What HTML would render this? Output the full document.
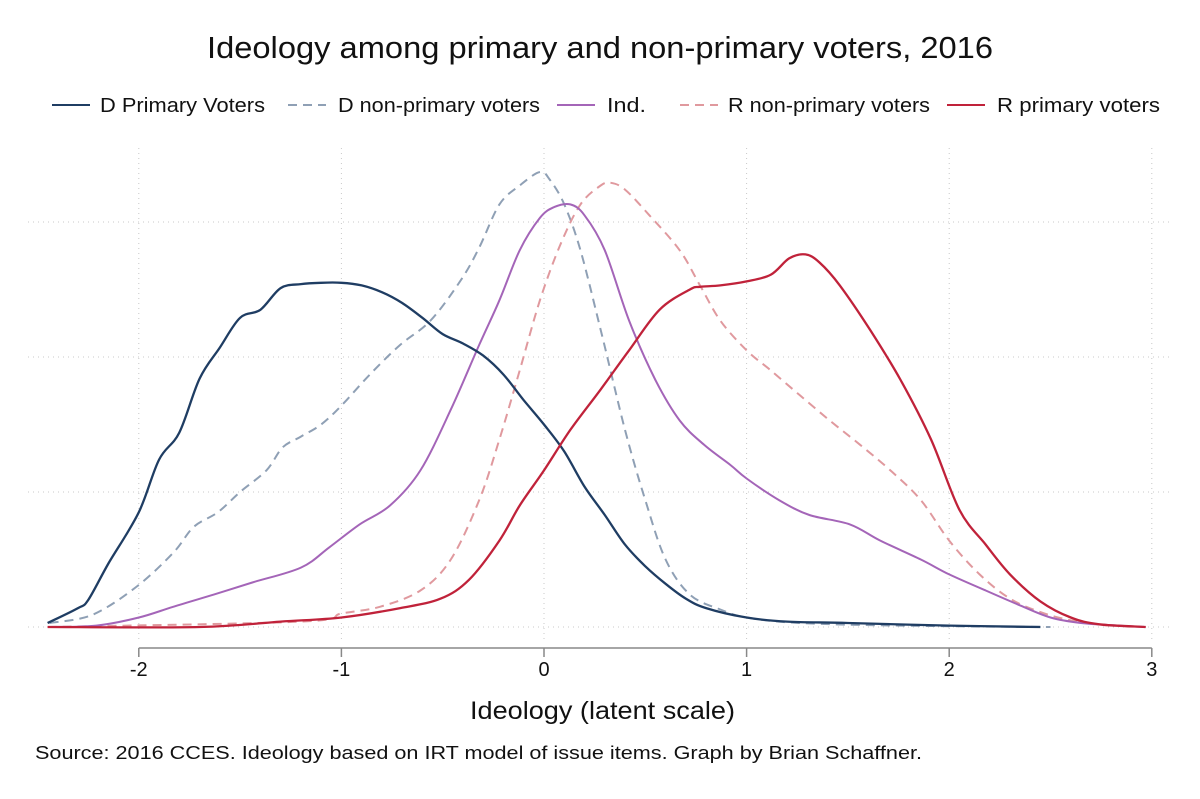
<!DOCTYPE html>
<html><head><meta charset="utf-8"><style>
html,body{margin:0;padding:0;background:#fff}
svg{display:block;font-family:"Liberation Sans",Arial,sans-serif}
</style></head><body>
<svg id="chart" width="1200" height="799" viewBox="0 0 1200 799">
<text x="207" y="58" font-size="31" fill="#111" textLength="786" lengthAdjust="spacingAndGlyphs">Ideology among primary and non-primary voters, 2016</text>
<g id="legend"></g>
<g id="grid"></g>
<g id="series"></g>
<g id="xaxis"></g>
<text x="470" y="719" font-size="25" fill="#111" textLength="265" lengthAdjust="spacingAndGlyphs">Ideology (latent scale)</text>
<text x="35" y="759" font-size="18" fill="#111" textLength="887" lengthAdjust="spacingAndGlyphs">Source: 2016 CCES. Ideology based on IRT model of issue items. Graph by Brian Schaffner.</text>
</svg>
<script>
const xTicks=[-2,-1,0,1,2,3];
const xTickLabels=["-2","-1","0","1","2","3"];
const yGrid=[0,0.1,0.2,0.3];
const dPrimX=[-2.45,-2.3,-2.25,-2.15,-2.0,-1.9,-1.8,-1.7,-1.6,-1.5,-1.4,-1.3,-1.2,-1.1,-1.0,-0.9,-0.8,-0.7,-0.6,-0.5,-0.4,-0.3,-0.2,-0.1,0,0.1,0.2,0.3,0.4,0.5,0.6,0.7,0.8,1.0,1.2,1.5,2.0,2.45];
const dPrimY=[.003,.014,.020,.047,.085,.124,.144,.184,.207,.229,.235,.251,.254,.255,.255,.253,.248,.240,.229,.217,.210,.201,.187,.168,.150,.130,.104,.083,.061,.045,.032,.021,.014,.007,.004,.003,.001,0];
const dNonX=[-2.44,-2.23,-2.01,-1.83,-1.73,-1.61,-1.5,-1.37,-1.29,-1.2,-1.1,-1.0,-0.86,-0.71,-0.56,-0.41,-0.32,-0.22,-0.12,-0.02,0.03,0.1,0.18,0.28,0.4,0.5,0.6,0.72,0.87,1.0,1.26,1.76,2.5];
const dNonY=[.003,.009,.030,.055,.074,.085,.100,.116,.133,.141,.150,.164,.187,.209,.227,.257,.281,.313,.327,.337,.331,.313,.279,.220,.146,.094,.050,.024,.013,.007,.003,.001,0];
const indX=[-2.44,-2.21,-2.0,-1.83,-1.63,-1.44,-1.2,-1.06,-0.91,-0.76,-0.61,-0.46,-0.32,-0.22,-0.12,-0.02,0.05,0.13,0.2,0.3,0.42,0.55,0.67,0.79,0.92,1.0,1.16,1.31,1.51,1.66,1.86,2.0,2.18,2.35,2.5,2.65,2.84,2.97];
const indY=[0,.001,.007,.015,.024,.033,.044,.059,.076,.090,.116,.161,.209,.242,.279,.303,.311,.313,.305,.279,.227,.183,.153,.135,.120,.110,.094,.083,.076,.064,.050,.039,.027,.016,.007,.003,.001,0];
const rNonX=[-2.45,-1.2,-1.0,-0.81,-0.61,-0.46,-0.32,-0.22,-0.12,-0.02,0.08,0.18,0.28,0.33,0.4,0.52,0.67,0.77,0.87,1.0,1.12,1.26,1.41,1.56,1.71,1.86,2.0,2.15,2.3,2.45,2.6,2.79];
const rNonY=[0,.004,.010,.015,.027,.050,.094,.139,.190,.242,.283,.313,.327,.329,.324,.305,.279,.253,.227,.205,.190,.172,.153,.135,.116,.094,.064,.039,.021,.011,.005,.001];
const rPrimX=[-2.45,-1.7,-1.3,-1.0,-0.71,-0.51,-0.37,-0.22,-0.12,0,0.13,0.28,0.42,0.57,0.72,0.77,0.87,1.0,1.12,1.21,1.29,1.36,1.46,1.61,1.76,1.91,2.05,2.18,2.3,2.45,2.6,2.74,2.97];
const rPrimY=[0,0,.004,.007,.014,.021,.035,.064,.090,.116,.146,.176,.205,.235,.250,.252,.253,.256,.261,.273,.276,.270,.253,.220,.183,.139,.087,.061,.039,.019,.007,.002,0];

const NS="http://www.w3.org/2000/svg";
const X=v=>544+202.6*v;
const Y=v=>627-1350*v;
function mk(tag,parent,attrs){const e=document.createElementNS(NS,tag);for(const k in attrs)e.setAttribute(k,attrs[k]);parent.appendChild(e);return e;}
const grid=document.getElementById('grid');
yGrid.forEach(v=>{const l=mk('line',grid,{x1:28,x2:1170,y1:Y(v),y2:Y(v),stroke:'#c8c8c8','stroke-width':1,'stroke-dasharray':'1 4'});

});
xTicks.forEach(v=>{const l=mk('line',grid,{x1:X(v),x2:X(v),y1:148,y2:640,stroke:'#c8c8c8','stroke-width':1,'stroke-dasharray':'1 4'});

});
const ax=document.getElementById('xaxis');
const al=mk('line',ax,{x1:X(xTicks[0]),x2:X(xTicks[xTicks.length-1]),y1:648,y2:648,stroke:'#888','stroke-width':1.5});


xTicks.forEach((v,i)=>{const t=mk('line',ax,{x1:X(v),x2:X(v),y1:648,y2:657,stroke:'#888','stroke-width':1.5});


const tx=mk('text',ax,{x:X(v),y:676,'text-anchor':'middle','font-size':20,fill:'#111'});tx.textContent=xTickLabels[i];

});
function pathD(xs,ys){const p=xs.map((x,i)=>[X(x),Y(ys[i])]);let d='M'+p[0][0].toFixed(1)+','+p[0][1].toFixed(1);
for(let i=0;i<p.length-1;i++){const p0=p[i-1]||p[i],p1=p[i],p2=p[i+1],p3=p[i+2]||p2;
const c1=[p1[0]+(p2[0]-p0[0])/6,p1[1]+(p2[1]-p0[1])/6],c2=[p2[0]-(p3[0]-p1[0])/6,p2[1]-(p3[1]-p1[1])/6];
d+=' C'+c1.map(n=>n.toFixed(1))+' '+c2.map(n=>n.toFixed(1))+' '+p2.map(n=>n.toFixed(1));}return d;}
const series=[
{name:'d-non-primary-line',xs:dNonX,ys:dNonY,c:'#8fa0b5',dash:'9 6',w:2},
{name:'r-non-primary-line',xs:rNonX,ys:rNonY,c:'#e0999e',dash:'9 6',w:2},
{name:'ind-line',xs:indX,ys:indY,c:'#a465b8',dash:'',w:2},
{name:'d-primary-line',xs:dPrimX,ys:dPrimY,c:'#1f3d63',dash:'',w:2.3},
{name:'r-primary-line',xs:rPrimX,ys:rPrimY,c:'#c0223a',dash:'',w:2.3}];
const sg=document.getElementById('series');
series.forEach(s=>{const p=mk('path',sg,{d:pathD(s.xs,s.ys),fill:'none',stroke:s.c,'stroke-width':s.w,'stroke-dasharray':s.dash,'stroke-linejoin':'round'});

});
const legendItems=[
{label:'D Primary Voters',c:'#1f3d63',dash:'',x:52,tx:100,tw:165},
{label:'D non-primary voters',c:'#8fa0b5',dash:'9 6',x:288,tx:338,tw:202},
{label:'Ind.',c:'#a465b8',dash:'',x:557,tx:607,tw:39},
{label:'R non-primary voters',c:'#e0999e',dash:'9 6',x:680,tx:728,tw:202},
{label:'R primary voters',c:'#c0223a',dash:'',x:947,tx:997,tw:163}];
const lg=document.getElementById('legend');
legendItems.forEach(it=>{const g=mk('g',lg,{});


mk('line',g,{x1:it.x,x2:it.x+38,y1:105,y2:105,stroke:it.c,'stroke-width':2,'stroke-dasharray':it.dash});
const t=mk('text',g,{x:it.tx,y:112,'font-size':20,fill:'#111',textLength:it.tw,lengthAdjust:'spacingAndGlyphs'});t.textContent=it.label;});
</script>
</body></html>
